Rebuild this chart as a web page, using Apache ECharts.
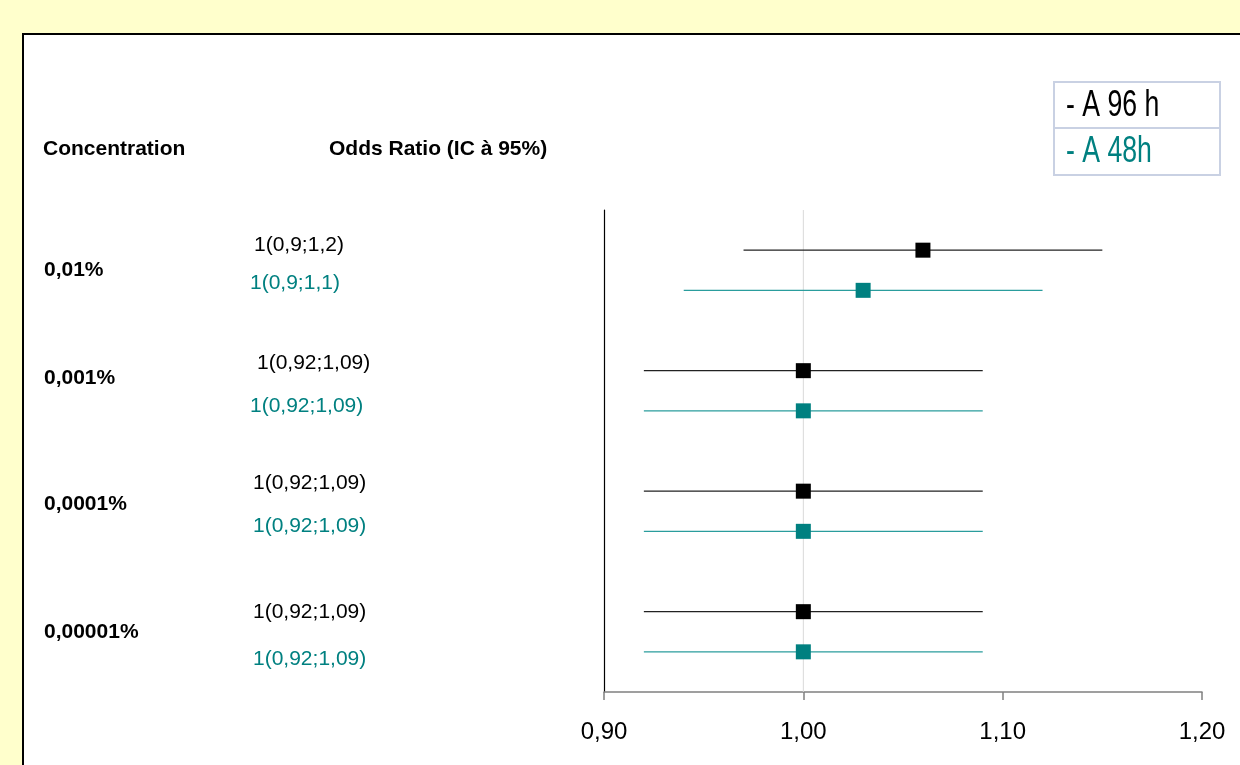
<!DOCTYPE html>
<html>
<head>
<meta charset="utf-8">
<script src="https://cdn.jsdelivr.net/npm/echarts@6/dist/echarts.min.js"></script>
<style>
html,body{margin:0;padding:0;width:1240px;height:765px;overflow:hidden;background:#FFFFCC;}
#panel{position:absolute;left:22px;top:33px;width:1240px;height:800px;background:#fff;border:2px solid #000;box-sizing:border-box;}
#chart{position:absolute;left:0;top:0;width:1240px;height:765px;}
</style>
</head>
<body>
<div id="panel"></div>
<div id="chart"></div>
<script>
// ---- data ----
const concentrations = ['0,01%', '0,001%', '0,0001%', '0,00001%'];
const seriesNames = ['- A 96 h', '- A 48h'];
const or96 = [1.06, 1.00, 1.00, 1.00];
const lo96 = [0.97, 0.92, 0.92, 0.92];
const hi96 = [1.15, 1.09, 1.09, 1.09];
const or48 = [1.03, 1.00, 1.00, 1.00];
const lo48 = [0.94, 0.92, 0.92, 0.92];
const hi48 = [1.12, 1.09, 1.09, 1.09];
const labels96 = ['1(0,9;1,2)', '1(0,92;1,09)', '1(0,92;1,09)', '1(0,92;1,09)'];
const labels48 = ['1(0,9;1,1)', '1(0,92;1,09)', '1(0,92;1,09)', '1(0,92;1,09)'];
const xTicks = [0.90, 1.00, 1.10, 1.20];
const refValue = 1.00;

// ---- layout (positions of side texts) ----
const concLabelY = [270, 378, 504, 632];
const lab96Pos = [[254, 245], [257, 363], [253, 483], [253, 612]];
const lab48Pos = [[250, 283], [250, 406], [253, 526], [253, 659]];

const BLACK = '#000000';
const TEAL = '#008080';
const sans = '"Liberation Sans",Arial,Helvetica,sans-serif';

function rowY(g, s) { return g * 3 + s; }

function makeCI(lo, hi, color, s) {
  return {
    type: 'custom',
    z: 3,
    silent: true,
    data: lo.map((v, i) => [v, hi[i], rowY(i, s)]),
    encode: { x: [0, 1], y: 2 },
    renderItem: function (params, api) {
      const a = api.coord([api.value(0), api.value(2)]);
      const b = api.coord([api.value(1), api.value(2)]);
      return {
        type: 'line',
        shape: { x1: a[0], y1: a[1], x2: b[0], y2: b[1] },
        style: { stroke: color, lineWidth: 1.4 }
      };
    }
  };
}

function makePts(vals, color, s, name) {
  return {
    type: 'scatter',
    name: name,
    z: 10,
    symbol: 'rect',
    symbolSize: 15,
    itemStyle: { color: color, opacity: 1 },
    data: vals.map((v, i) => [v, rowY(i, s)])
  };
}

const graphics = [];
graphics.push({ type: 'text', left: 43, top: 139, style: { text: 'Concentration', font: 'bold 21px ' + sans, fill: '#000' } });
graphics.push({ type: 'text', left: 329, top: 139, style: { text: 'Odds Ratio (IC à 95%)', font: 'bold 21px ' + sans, fill: '#000' } });
concentrations.forEach((c, i) => {
  graphics.push({ type: 'text', x: 44, y: concLabelY[i], style: { text: c, font: 'bold 21px ' + sans, fill: '#000', verticalAlign: 'middle' } });
});
labels96.forEach((t, i) => {
  graphics.push({ type: 'text', x: lab96Pos[i][0], y: lab96Pos[i][1], style: { text: t, font: '21px ' + sans, fill: BLACK, verticalAlign: 'middle' } });
});
labels48.forEach((t, i) => {
  graphics.push({ type: 'text', x: lab48Pos[i][0], y: lab48Pos[i][1], style: { text: t, font: '21px ' + sans, fill: TEAL, verticalAlign: 'middle' } });
});
// legend box
graphics.push({ type: 'rect', shape: { x: 1054, y: 82, width: 166, height: 46 }, style: { fill: '#fff', stroke: '#c9d1e3', lineWidth: 2 } });
graphics.push({ type: 'rect', shape: { x: 1054, y: 128, width: 166, height: 47 }, style: { fill: '#fff', stroke: '#c9d1e3', lineWidth: 2 } });
graphics.push({ type: 'text', x: 1066, y: 106, scaleX: 0.74, style: { text: seriesNames[0], font: '36px ' + sans, fill: BLACK, verticalAlign: 'middle' } });
graphics.push({ type: 'text', x: 1066, y: 152, scaleX: 0.74, style: { text: seriesNames[1], font: '36px ' + sans, fill: TEAL, verticalAlign: 'middle' } });

const chart = echarts.init(document.getElementById('chart'), null, { renderer: 'canvas' });
chart.setOption({
  backgroundColor: 'transparent',
  animation: false,
  grid: { left: 604, right: 38, top: 210, bottom: 73 },
  xAxis: {
    type: 'value',
    min: xTicks[0],
    max: xTicks[xTicks.length - 1],
    interval: 0.1,
    axisLine: { show: true, onZero: false, lineStyle: { color: '#808080', width: 1.5 } },
    axisTick: { show: true, length: 8, lineStyle: { color: '#808080', width: 1.5 } },
    axisLabel: {
      margin: 28,
      formatter: v => v.toFixed(2).replace('.', ','),
      fontFamily: sans,
      fontSize: 24,
      color: '#000'
    },
    splitLine: { show: false }
  },
  yAxis: {
    type: 'value',
    min: -1,
    max: 11,
    inverse: true,
    axisLine: { show: true, onZero: false, lineStyle: { color: '#000', width: 1.2 } },
    axisTick: { show: false },
    axisLabel: { show: false },
    splitLine: { show: false }
  },
  graphic: graphics,
  series: [
    {
      type: 'custom',
      z: 1,
      silent: true,
      data: [[refValue, -1, 11]],
      encode: { x: 0, y: [1, 2] },
      renderItem: function (params, api) {
        const a = api.coord([api.value(0), api.value(1)]);
        const b = api.coord([api.value(0), api.value(2)]);
        return {
          type: 'line',
          shape: { x1: a[0], y1: a[1], x2: b[0], y2: b[1] },
          style: { stroke: '#d9d9d9', lineWidth: 1 }
        };
      }
    },
    makeCI(lo96, hi96, '#222222', 0),
    makeCI(lo48, hi48, '#2a9d9d', 1),
    makePts(or96, BLACK, 0, seriesNames[0]),
    makePts(or48, TEAL, 1, seriesNames[1])
  ]
});
</script>
</body>
</html>
